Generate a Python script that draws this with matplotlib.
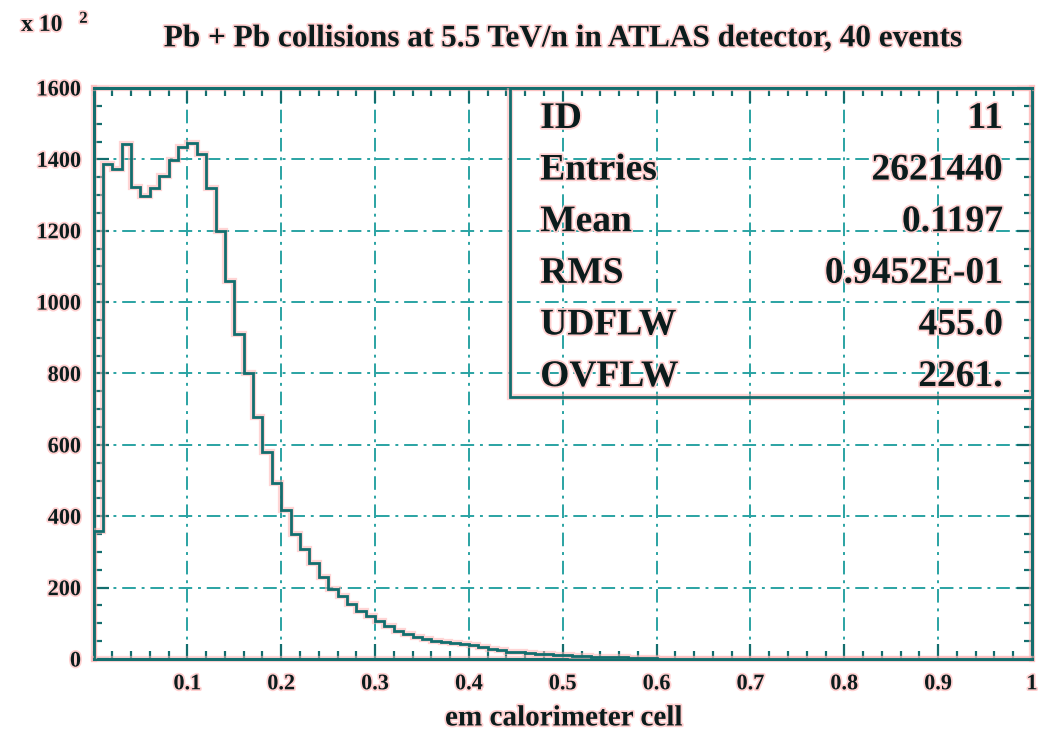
import numpy as np
import matplotlib
matplotlib.use("Agg")
import matplotlib.pyplot as plt
import matplotlib.patheffects as pe
from matplotlib.patches import Rectangle
from matplotlib.ticker import MultipleLocator, FixedLocator

# em calorimeter cell energy, 100 bins on [0, 1], contents in units of 10^2
counts = [
    360, 1388, 1372, 1444, 1323, 1298, 1321, 1354, 1398, 1436,
    1445, 1414, 1321, 1200, 1058, 911, 802, 679, 579, 494,
    418, 351, 308, 268, 230, 195, 177, 153, 135, 120,
    106, 92, 79, 69, 62, 55, 50, 48, 46, 41,
    38, 34, 28, 25, 21, 19, 18, 15, 13, 12,
    10, 9, 8, 7, 6, 5, 5, 4, 3, 3,
    1, 1, 1, 0, 0, 0, 0, 0, 0, 0,
    0, 0, 0, 0, 0, 0, 0, 0, 0, 0,
    0, 0, 0, 0, 0, 0, 0, 0, 0, 0,
    0, 0, 0, 0, 0, 0, 0, 0, 0, 0,
]
x_ticks = [0.1, 0.2, 0.3, 0.4, 0.5, 0.6, 0.7, 0.8, 0.9, 1.0]
x_ticklabels = ["0.1", "0.2", "0.3", "0.4", "0.5", "0.6", "0.7", "0.8", "0.9", "1"]
y_ticks = [0, 200, 400, 600, 800, 1000, 1200, 1400, 1600]

stat_names = ["ID", "Entries", "Mean", "RMS", "UDFLW", "OVFLW"]
stat_values = ["11", "2621440", "0.1197", "0.9452E-01", "455.0", "2261."]

title = "Pb + Pb collisions at 5.5 TeV/n in ATLAS detector, 40 events"
xlabel = "em calorimeter cell"

INK = "#0b1c1c"
TEAL = "#136e6e"
GRID = "#2aa3a3"
HALO = "#ffb4b4"

plt.rcParams["font.family"] = ["Liberation Serif", "DejaVu Serif"]
plt.rcParams["font.weight"] = "bold"

line_fx = [pe.Stroke(linewidth=4.5, foreground=HALO, alpha=0.55), pe.Normal()]
text_fx = [pe.withStroke(linewidth=2.5, foreground="#ffd0d0")]

fig = plt.figure(figsize=(10.57, 7.35), dpi=100)
ax = fig.add_axes([0.0885, 0.1034, 0.8878, 0.7769])

edges = np.linspace(0, 1, len(counts) + 1)
ax.stairs(counts, edges, color=TEAL, lw=2.0, baseline=0, path_effects=line_fx, zorder=3)

ax.set_xlim(0, 1)
ax.set_ylim(0, 1600)

ax.xaxis.set_major_locator(FixedLocator(x_ticks))
ax.set_xticklabels(x_ticklabels)
ax.xaxis.set_minor_locator(MultipleLocator(0.02))
ax.yaxis.set_major_locator(FixedLocator(y_ticks))
ax.yaxis.set_minor_locator(MultipleLocator(50))

ax.tick_params(which="both", direction="in", top=True, right=True, color=TEAL, width=1.6,
               labelcolor=INK, labelsize=16)
ax.tick_params(which="major", length=11)
ax.tick_params(which="minor", length=6)
ax.tick_params(axis="x", pad=11)
ax.tick_params(axis="y", pad=9)
for lab in ax.get_xticklabels() + ax.get_yticklabels():
    lab.set_fontweight("bold")
    lab.set_path_effects(text_fx)

ax.grid(True, which="major", color=GRID, lw=1.4, linestyle=(0, (7, 3, 1.5, 3)), zorder=1)
for sp in ax.spines.values():
    sp.set_color(TEAL)
    sp.set_linewidth(2.2)
    sp.set_path_effects(line_fx)

# statistics box in the upper right corner
box = Rectangle((0.444, 0.459), 0.556, 0.541, transform=ax.transAxes, fill=False,
                edgecolor=TEAL, lw=2.0, zorder=4, path_effects=line_fx)
ax.add_patch(box)
row_y = np.linspace(0.930, 0.478, len(stat_names))
for name, val, yy in zip(stat_names, stat_values, row_y):
    ax.text(0.476, yy, name, transform=ax.transAxes, ha="left", va="baseline",
            fontsize=27, fontweight="bold", color=INK, path_effects=text_fx, zorder=5)
    ax.text(0.969, yy, val, transform=ax.transAxes, ha="right", va="baseline",
            fontsize=27, fontweight="bold", color=INK, path_effects=text_fx, zorder=5)

fig.text(0.533, 0.937, title, ha="center", va="baseline", fontsize=22.5,
         fontweight="bold", color=INK, path_effects=text_fx)
fig.text(0.020, 0.958, "x 10", ha="left", va="baseline", fontsize=17,
         fontweight="bold", color=INK, path_effects=text_fx)
fig.text(0.075, 0.969, "2", ha="left", va="baseline", fontsize=12,
         fontweight="bold", color=INK, path_effects=text_fx)
fig.text(0.533, 0.013, xlabel, ha="center", va="baseline", fontsize=21,
         fontweight="bold", color=INK, path_effects=text_fx)

fig.savefig("out.png", dpi=100, facecolor="white")
